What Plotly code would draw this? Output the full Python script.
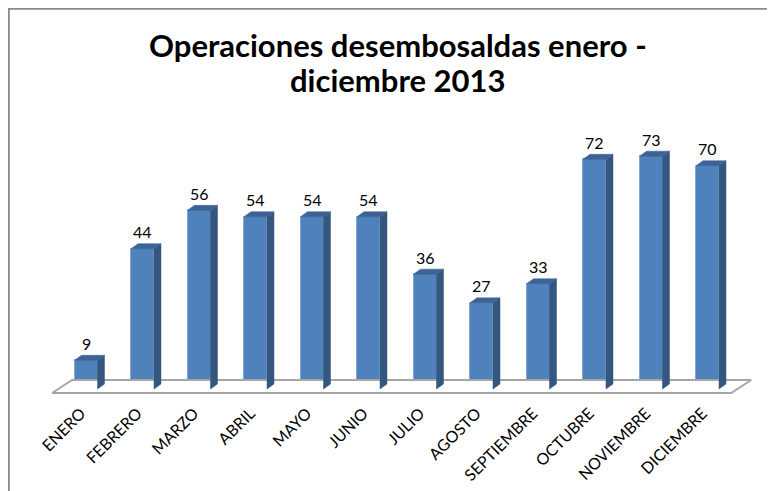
import plotly.graph_objects as go

months = ["ENERO", "FEBRERO", "MARZO", "ABRIL", "MAYO", "JUNIO", "JULIO",
          "AGOSTO", "SEPTIEMBRE", "OCTUBRE", "NOVIEMBRE", "DICIEMBRE"]
values = [9, 44, 56, 54, 54, 54, 36, 27, 33, 72, 73, 70]
title_lines = ["Operaciones desembosaldas enero -", "diciembre 2013"]

# page body has an 8px margin, so the figure is 8px smaller than the window
W, H = 767, 483
MB = 96                      # bottom margin
PH = H - MB                  # plot height px
X0PX, XSTEP = 78.0, 56.5     # px of first category centre, px per category
Y0PX, YSCALE = 381.0, 3.19   # px of value 0, px per unit

xr = [-X0PX / XSTEP, (W - X0PX) / XSTEP]
yr = [(Y0PX - PH) / YSCALE, Y0PX / YSCALE]

bw = 23 / XSTEP          # front width
dx = 7 / XSTEP           # depth offset x
dy = 5 / YSCALE          # depth offset y

idx = list(range(len(months)))

FRONT = "#4f81bd"
SIDE = "#34577f"
TOP = "#3d6395"

fig = go.Figure()

# floor
n = len(months)
fl_front = -4 / YSCALE
fl_back = 9 / YSCALE
fxl, fxr = -0.60, n - 1 + 0.42
fdx = 20 / XSTEP
fig.add_trace(go.Scatter(
    x=[fxl, fxr, fxr + fdx, fxl + fdx, fxl],
    y=[fl_front, fl_front, fl_back, fl_back, fl_front],
    mode="lines", fill="toself", fillcolor="white",
    line=dict(color="#a6a6a6", width=2), hoverinfo="skip", showlegend=False))

# side and top faces
sx, sy, tx, ty = [], [], [], []
for i, v in zip(idx, values):
    r = i + bw / 2
    l = i - bw / 2
    sx += [r, r + dx, r + dx, r, r, None]
    sy += [0, dy, v + dy, v, 0, None]
    tx += [l, l + dx, r + dx, r, l, None]
    ty += [v, v + dy, v + dy, v, v, None]
fig.add_trace(go.Scatter(x=sx, y=sy, mode="lines", fill="toself", fillcolor=SIDE,
                         line=dict(color=SIDE, width=0.5), hoverinfo="skip", showlegend=False))
fig.add_trace(go.Scatter(x=tx, y=ty, mode="lines", fill="toself", fillcolor=TOP,
                         line=dict(color=TOP, width=0.5), hoverinfo="skip", showlegend=False))

# front faces
fig.add_trace(go.Bar(x=idx, y=values, width=bw,
                     marker=dict(color=FRONT, line=dict(color="#6f97c9", width=0.8)),
                     showlegend=False))

for i, v in zip(idx, values):
    fig.add_annotation(x=i, y=v, text=str(v), showarrow=False, yshift=17,
                       font=dict(family="Lato", size=16, color="#000000"))

# title (two lines)
for line, py in zip(title_lines, [37, 72]):
    fig.add_annotation(xref="paper", yref="paper", x=390 / W, y=1 - py / PH,
                       xanchor="center", yanchor="middle", text=f"<b>{line}</b>",
                       showarrow=False, font=dict(family="Lato", size=31, color="#000000"))

fig.update_layout(
    width=W, height=H, autosize=False,
    margin=dict(l=0, r=0, t=0, b=MB),
    paper_bgcolor="white", plot_bgcolor="rgba(0,0,0,0)",
    bargap=0,
)
fig.update_xaxes(range=xr, tickmode="array", tickvals=idx, ticktext=months, tickangle=-45,
                 showgrid=False, zeroline=False, showline=False, ticks="",
                 tickfont=dict(family="Lato", size=16, color="#000000"),
                 ticklabelstandoff=5, ticklabelshift=-5)
fig.update_yaxes(range=yr, visible=False, showgrid=False, zeroline=False)

fig.add_shape(type="rect", xref="paper", yref="paper",
              x0=0.8 / W, x1=1.05, y0=-(MB + 20) / PH, y1=1 - 0.8 / PH,
              line=dict(color="#8a8a8a", width=2), fillcolor="rgba(0,0,0,0)", layer="below")

fig.write_html("out.html")
